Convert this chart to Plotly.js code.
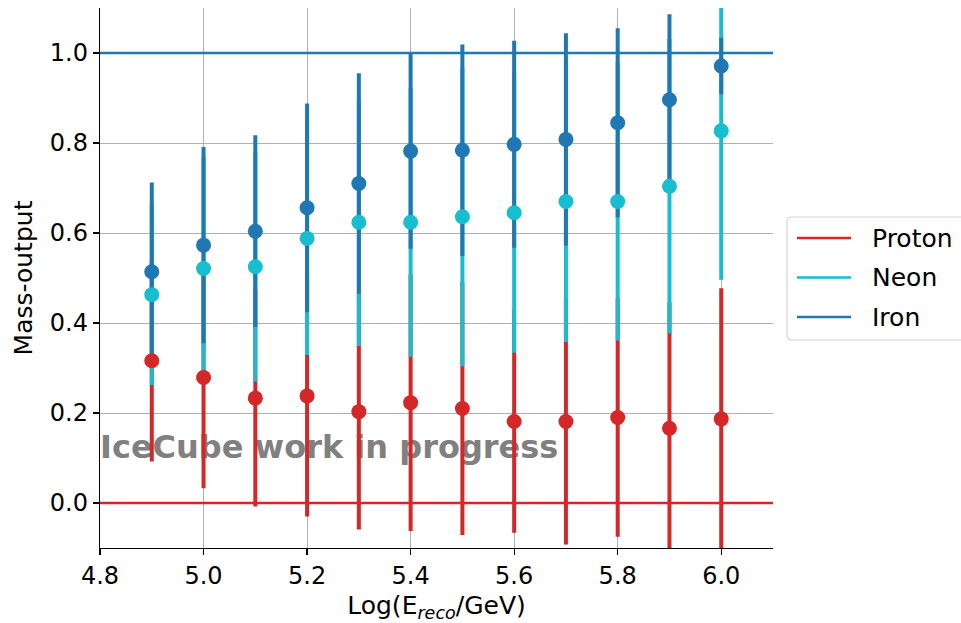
<!DOCTYPE html>
<html>
<head>
<meta charset="utf-8">
<script src="https://cdn.plot.ly/plotly-3.0.1.min.js"></script>
<style>html,body{margin:0;padding:0;background:#fff;}#chart{width:961px;height:623px;}</style>
</head>
<body>
<div id="chart"></div>
<script>
// ---- data ----
const energy = [4.9, 5.0, 5.1, 5.2, 5.3, 5.4, 5.5, 5.6, 5.7, 5.8, 5.9, 6.0];
const proton    = [0.316, 0.279, 0.233, 0.238, 0.203, 0.223, 0.210, 0.181, 0.181, 0.190, 0.166, 0.187];
const protonErr = [0.224, 0.246, 0.241, 0.268, 0.262, 0.285, 0.281, 0.247, 0.273, 0.265, 0.280, 0.290];
const neon      = [0.463, 0.521, 0.525, 0.588, 0.624, 0.624, 0.636, 0.645, 0.670, 0.670, 0.704, 0.827];
const neonErr   = [0.201, 0.248, 0.255, 0.259, 0.275, 0.299, 0.332, 0.311, 0.312, 0.309, 0.327, 0.331];
const iron      = [0.514, 0.573, 0.604, 0.656, 0.710, 0.782, 0.784, 0.797, 0.808, 0.845, 0.896, 0.971];
const ironErr   = [0.198, 0.218, 0.213, 0.232, 0.245, 0.217, 0.235, 0.230, 0.236, 0.210, 0.190, 0.063];
const seriesNames = ["Proton", "Neon", "Iron"];
const refLevel = {Proton: 0.0, Iron: 1.0};   // horizontal reference lines
const xRange = [4.8, 6.1];
const yRange = [-0.1, 1.1];
const xTicks = [4.8, 5.0, 5.2, 5.4, 5.6, 5.8, 6.0];
const yTicks = [0.0, 0.2, 0.4, 0.6, 0.8, 1.0];
const watermark = "IceCube work in progress";
const watermarkPos = {x: 4.8, y: 0.117};

// ---- styles ----
const colors = {Proton: "#d62728", Neon: "#17becf", Iron: "#1f77b4"};
const FONT = "DejaVu Sans, Verdana, sans-serif";
const vals = {Proton: proton, Neon: neon, Iron: iron};
const errs = {Proton: protonErr, Neon: neonErr, Iron: ironErr};

const traces = [];
// watermark text (under the error bars)
traces.push({
  x: [watermarkPos.x], y: [watermarkPos.y], mode: "text", text: [watermark],
  textposition: "middle right", cliponaxis: false, showlegend: false, hoverinfo: "skip",
  textfont: {family: FONT, size: 32, color: "#808080", weight: "bold"}
});
// error bars first (all series), then markers on top
seriesNames.forEach(n => {
  traces.push({
    x: energy, y: vals[n], mode: "markers", showlegend: false, hoverinfo: "skip",
    marker: {size: 1, opacity: 0, color: colors[n]},
    error_y: {type: "data", array: errs[n], visible: true, color: colors[n], thickness: 4, width: 0}
  });
});
seriesNames.forEach(n => {
  traces.push({
    x: energy, y: vals[n], mode: "markers", showlegend: false,
    marker: {size: 15, color: colors[n]}
  });
});
// horizontal reference lines
Object.keys(refLevel).forEach(n => {
  traces.push({
    x: xRange, y: [refLevel[n], refLevel[n]], mode: "lines", showlegend: false,
    line: {color: colors[n], width: 2.5}, hoverinfo: "skip"
  });
});

// ---- legend box drawn in paper coordinates (matplotlib style) ----
const PL = 100, PR = 773, PT = 8, PB = 548;
const px = v => (v - PL) / (PR - PL);
const py = v => (PB - v) / (PB - PT);
const shapes = [];
const annotations = [];
{
  const x0 = 787, x1 = 975, y0 = 217, y1 = 340, r = 5;
  const path = `M ${px(x0 + r)} ${py(y0)} L ${px(x1)} ${py(y0)} L ${px(x1)} ${py(y1)} L ${px(x0 + r)} ${py(y1)} ` +
    `Q ${px(x0)} ${py(y1)} ${px(x0)} ${py(y1 - r)} L ${px(x0)} ${py(y0 + r)} Q ${px(x0)} ${py(y0)} ${px(x0 + r)} ${py(y0)} Z`;
  shapes.push({type: "path", xref: "paper", yref: "paper", path: path,
    line: {color: "#d5d5d5", width: 1.2}, fillcolor: "rgba(255,255,255,0.9)", layer: "above"});
  const rowY = [238, 277.5, 317];
  seriesNames.forEach((n, i) => {
    shapes.push({type: "line", xref: "paper", yref: "paper",
      x0: px(797), x1: px(851), y0: py(rowY[i]), y1: py(rowY[i]),
      line: {color: colors[n], width: 2.5}, layer: "above"});
    annotations.push({xref: "paper", yref: "paper", x: px(870), y: py(rowY[i]),
      xanchor: "left", yanchor: "middle", text: n, showarrow: false,
      font: {family: FONT, size: 25, color: "#000"}});
  });
}

const layout = {
  width: 961, height: 623,
  margin: {l: PL, r: 961 - PR, t: PT, b: 623 - PB},
  paper_bgcolor: "#fff", plot_bgcolor: "#fff",
  font: {family: FONT, size: 24, color: "#000"},
  showlegend: false,
  hovermode: false,
  shapes: shapes,
  annotations: annotations,
  xaxis: {
    range: xRange, tickvals: xTicks, ticktext: xTicks.map(v => v.toFixed(1)),
    showgrid: true, gridcolor: "#b0b0b0", gridwidth: 1, zeroline: false,
    showline: true, linecolor: "#000", linewidth: 1.2, mirror: false,
    ticks: "outside", ticklen: 6, tickcolor: "#000", tickwidth: 1.2,
    tickfont: {family: FONT, size: 24, color: "#000"},
    title: {text: "Log(E<sub><i>reco</i></sub>/GeV)", font: {family: FONT, size: 25, color: "#000"}, standoff: 10}
  },
  yaxis: {
    range: yRange, tickvals: yTicks, ticktext: yTicks.map(v => v.toFixed(1)),
    showgrid: true, gridcolor: "#b0b0b0", gridwidth: 1, zeroline: false,
    showline: true, linecolor: "#000", linewidth: 1.2, mirror: false,
    ticks: "outside", ticklen: 6, tickcolor: "#000", tickwidth: 1.2,
    tickfont: {family: FONT, size: 24, color: "#000"},
    title: {text: "Mass-output", font: {family: FONT, size: 25, color: "#000"}, standoff: 10}
  }
};

Plotly.newPlot("chart", traces, layout, {displayModeBar: false, staticPlot: true});
</script>
</body>
</html>
